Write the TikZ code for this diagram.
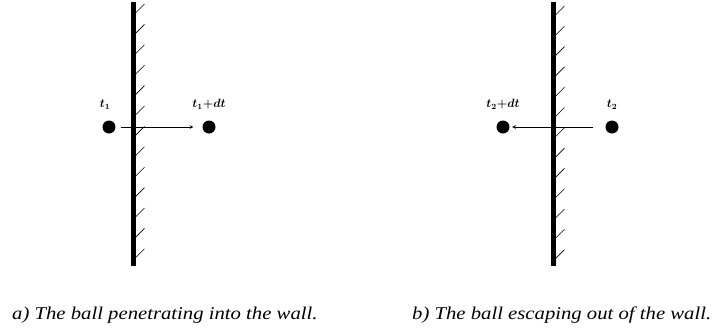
\documentclass[tikz,border=0pt]{standalone}
\usepackage{fontspec}
\setmainfont{Liberation Serif}
\newfontfamily\capfont{Liberation Serif}[FakeStretch=1.15]
\begin{document}
\begin{tikzpicture}[x=1pt, y=-1pt,
    ball/.style={circle, fill=black, inner sep=0pt, minimum size=13pt},
    tlabel/.style={font=\large\boldmath, label distance=7pt},
    caption/.style={anchor=west, font=\capfont\fontsize{18}{21}\selectfont\itshape, inner sep=0pt}]
    % --- canvas ---
    \useasboundingbox (0,0) rectangle (713,333);

    % --- parameters ---
    \def\wallA{133}    % x of wall a)
    \def\wallB{553}    % x of wall b)
    \def\ballY{127}    % height of the balls

    % --- wall a) with hatching ---
    \draw[line width=5pt] (\wallA, 2) -- (\wallA, 266);
    \foreach \y in {13, 33.4, ..., 259}
        \draw[semithick] (\wallA + 2.5, \y) -- ++(9, -9);

    % --- wall b) with hatching ---
    \draw[line width=5pt] (\wallB, 2) -- (\wallB, 266);
    \foreach \y in {15, 35.3, ..., 259}
        \draw[semithick] (\wallB + 2.5, \y) -- ++(9, -9);

    % --- a) ball moving into the wall ---
    \node[ball, label={[tlabel, xshift=-4pt]above:$t_1$}] (ballAone) at (109, \ballY) {};
    \node[ball, label={[tlabel]above:$t_1{+}dt$}] (ballAtwo) at (209, \ballY) {};
    \draw[-stealth, semithick, shorten <=5pt, shorten >=9pt] (ballAone) -- (ballAtwo);

    % --- b) ball moving out of the wall ---
    \node[ball, label={[tlabel]above:$t_2{+}dt$}] (ballBtwo) at (503, \ballY) {};
    \node[ball, label={[tlabel]above:$t_2$}] (ballBone) at (612, \ballY) {};
    \draw[-stealth, semithick, shorten <=12pt, shorten >=2.5pt] (ballBone) -- (ballBtwo);

    % --- captions ---
    \node[caption] (capA) at (12, 315) {a) The ball penetrating into the wall.};
    \node[caption] (capB) at (412, 315) {b) The ball escaping out of the wall.};
\end{tikzpicture}
\end{document}
